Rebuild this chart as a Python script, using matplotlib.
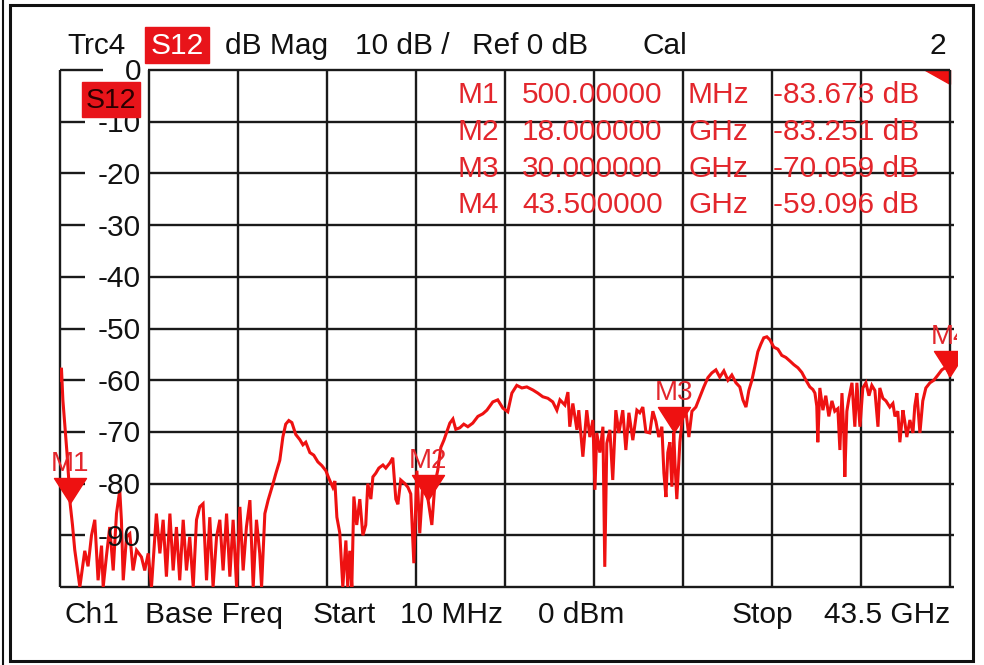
import numpy as np
import matplotlib.pyplot as plt
from matplotlib.patches import Rectangle, Polygon
from matplotlib.path import Path
import matplotlib.transforms as mtransforms

plt.rcParams['font.family'] = ['Liberation Sans', 'DejaVu Sans']

W, H = 984, 665

# sweep settings
f_start, f_stop = 0.01, 43.5    # GHz
db_top, db_bottom = 0, -100
db_div = 10

# S12 trace (GHz, dB)
f_start_spike = [0.01, 0.08, 0.15, 0.25, 0.35, 0.45, 0.50, 0.62, 0.73]
db_start_spike = [-60, -57.6, -63.8, -69, -74, -80, -83.67, -88, -92.8]

f_floor = [0.98, 1.22, 1.38, 1.55, 1.71, 1.87, 2.04, 2.12, 2.28, 2.44,
           2.61, 2.77, 2.93, 3.01, 3.10, 3.26, 3.42, 3.58, 3.75, 3.99,
           4.15, 4.32, 4.48, 4.72, 4.89, 5.05, 5.21, 5.38, 5.54, 5.70,
           5.86, 6.03, 6.19, 6.35, 6.52, 6.68, 6.84, 7.00, 7.17, 7.33,
           7.49, 7.66, 7.82, 7.98, 8.15, 8.31, 8.47, 8.64, 8.80, 8.96,
           9.12, 9.29, 9.45, 9.61, 9.77, 9.86, 10.02, 10.18, 10.42]
db_floor = [-100, -93, -96, -90, -87, -98.7, -92, -100, -94, -88.4,
            -96.8, -85.8, -81.3, -87, -98.7, -90.3, -89.7, -96.8, -92.9, -94.2,
            -96.8, -93.5, -100, -85.8, -93.5, -87, -98, -85.8, -96.8, -88.4,
            -98.7, -87, -96.8, -90.3, -100, -87, -84.5, -83.9, -98.7, -86.5,
            -100, -90.3, -87, -96.8, -85.8, -98, -87, -100, -84.5, -96.8,
            -88.4, -83.2, -100, -87, -93.5, -100, -85.8, -83.2, -80]

f_mid = [10.56, 10.75, 10.90, 11.04, 11.19, 11.34, 11.53, 11.73, 11.88, 12.02,
         12.22, 12.41, 12.61, 12.80, 13.00, 13.15, 13.34, 13.44, 13.54, 13.68,
         13.83, 13.98, 14.07, 14.17, 14.27, 14.37, 14.51, 14.66, 14.81, 14.95,
         15.05, 15.20, 15.30, 15.44, 15.59, 15.79, 15.93, 16.13, 16.27, 16.42,
         16.52, 16.66, 16.86, 17.01, 17.15, 17.30, 17.45, 17.59, 17.74, 18.00]
db_mid = [-78, -75.5, -71, -68.5, -67.8, -68.2, -70.5, -71.5, -72.5, -72,
          -74, -74.5, -75.8, -76.5, -77.5, -79, -80.7, -79.5, -86.5, -89.5,
          -100, -91, -100, -93, -100, -82.5, -88, -83, -90, -88,
          -80, -83, -78.7, -78, -77, -76.4, -77, -76, -75, -83,
          -84, -79.3, -80, -80.7, -82, -95.4, -77.5, -89.6, -80, -83.25]

f_upper = [18.18, 18.33, 18.47, 18.62, 18.77, 18.91, 19.06, 19.21, 19.35, 19.55,
           19.74, 19.94, 20.18, 20.43, 20.67, 20.87, 21.16, 21.40, 21.65, 21.89,
           22.09, 22.33, 22.58, 22.82, 23.12, 23.36, 23.60, 23.85, 24.09, 24.29,
           24.44, 24.68, 24.83, 24.92, 25.07, 25.27, 25.36, 25.56, 25.75, 25.90,
           26.05, 26.15, 26.24, 26.39, 26.54, 26.63, 26.73, 26.88, 27.02, 27.17,
           27.32, 27.51, 27.66, 27.81, 28.00, 28.20, 28.34, 28.49, 28.64, 28.83,
           28.98, 29.13, 29.27, 29.42, 29.52, 29.62, 29.71, 29.81, 29.91, 30.00]
db_upper = [-88, -80, -77.4, -73, -71.6, -70, -68.3, -67.5, -69.5, -69.2,
            -68.5, -69, -68.3, -67, -66.5, -65.8, -64.2, -63.8, -65.4, -66.1,
            -62.5, -61, -61.5, -61.3, -61.9, -62.5, -63.2, -63.5, -64.2, -65.8,
            -63.8, -64.8, -62.3, -69, -64.5, -69.6, -65.8, -74.8, -65.8, -71,
            -67.7, -81.2, -70.2, -74, -69, -96.1, -72.2, -69.6, -79.3, -65.8,
            -70.2, -65.8, -73.5, -66.3, -71.6, -65.8, -66.3, -65.2, -70, -70.2,
            -66, -68, -71, -69, -78, -82.6, -74, -72, -80.6, -70.06]

f_top = [30.06, 30.15, 30.30, 30.45, 30.59, 30.74, 30.89, 31.08, 31.28, 31.47,
         31.67, 31.86, 32.06, 32.25, 32.45, 32.65, 32.84, 33.04, 33.23, 33.38,
         33.53, 33.67, 33.82, 33.96, 34.11, 34.26, 34.40, 34.55, 34.70, 34.89,
         35.09, 35.28, 35.48, 35.68, 35.87, 36.07, 36.26, 36.46, 36.65, 36.80,
         36.90, 36.99, 37.04, 37.14, 37.29, 37.43, 37.58, 37.73, 37.87, 38.02,
         38.12, 38.22, 38.31, 38.36, 38.46, 38.56, 38.71, 38.85, 38.95, 39.10,
         39.24, 39.39, 39.54, 39.68, 39.83, 39.98, 40.07, 40.22, 40.37, 40.56,
         40.71, 40.81, 40.95, 41.05, 41.20, 41.29, 41.39, 41.54, 41.69, 41.78,
         41.88, 42.03, 42.17, 42.32, 42.52, 42.71, 42.91, 43.10, 43.30, 43.50]
db_top_band = [-76, -83, -72, -66.3, -65.8, -71, -66, -65.2, -63.2, -61.3,
               -59.5, -58.6, -58, -59.4, -58.2, -60, -59, -60.5, -61.3, -63.8,
               -65.2, -62, -60, -57.4, -54.5, -53, -51.8, -51.6, -52.2, -53.6,
               -54, -55.2, -55.6, -56.3, -57, -57.6, -58.5, -60, -61.3, -61.8,
               -62.5, -65, -72, -61.5, -65.8, -63, -67, -64, -66, -65.5,
               -73.5, -62.5, -70, -78.7, -66, -63.5, -60.5, -69, -60.5, -69,
               -61.5, -60.5, -63, -61, -62, -69, -61.5, -63.5, -64, -65.2,
               -64.5, -67, -66, -72, -65.8, -68, -71, -67.7, -70.2, -65,
               -62.5, -70.2, -64, -61.5, -60.5, -60, -59, -58, -57.5, -59.1]

trace_f = np.array(f_start_spike + f_floor + f_mid + f_upper + f_top)
trace_db = np.array(db_start_spike + db_floor + db_mid + db_upper + db_top_band)
assert len(trace_f) == len(trace_db)

# markers
marker_names = ['M1', 'M2', 'M3', 'M4']
marker_f = [0.5, 18.0, 30.0, 43.5]
marker_db = [-83.673, -83.251, -70.059, -59.096]
marker_freq_txt = ['500.00000', '18.000000', '30.000000', '43.500000']
marker_unit = ['MHz', 'GHz', 'GHz', 'GHz']

red = '#ee1111'
txt_red = '#e3262c'
ink = '#111111'
fs = 21.5


def fx(x):
    return x / W


def fy(y):
    return 1 - y / H


fig = plt.figure(figsize=(W / 100, H / 100), dpi=100)
ax = fig.add_axes([fx(60), fy(587), 890 / W, 517 / H])
ax.set_xlim(f_start, f_stop)
ax.set_ylim(db_bottom, db_top)
ax.axis('off')

blend = mtransforms.blended_transform_factory(ax.transAxes, ax.transData)
gkw = dict(color='#1a1a1a', lw=1.7, clip_on=False, solid_capstyle='butt')

# vertical divisions
span = f_stop - f_start
for k in range(1, 11):
    ax.plot([f_start + k * span / 10] * 2, [db_bottom, db_top], **gkw)
ax.plot([0, 0], [0, 1], transform=ax.transAxes, **gkw)

# horizontal divisions, the first column holds the scale
for v in range(db_top, db_bottom - 1, -db_div):
    if v == db_top:
        ax.plot([0, 0.048], [v, v], transform=blend, **gkw)
        ax.plot([0.099, 1.0], [v, v], transform=blend, **gkw)
    elif v == db_bottom:
        ax.plot([0, 1.004], [v, v], transform=blend, **gkw)
    else:
        ax.plot([0, 0.028], [v, v], transform=blend, **gkw)
        ax.plot([0.099, 1.004], [v, v], transform=blend, **gkw)
        ax.annotate(str(v), (0.091, v), xycoords=blend, xytext=(0, -7.6),
                    textcoords='offset points', ha='right', va='baseline',
                    fontsize=fs, color=ink)
ax.annotate('0', (0.091, db_top), xycoords=blend, xytext=(0, -7.2),
            textcoords='offset points', ha='right', va='baseline',
            fontsize=fs, color=ink)

# corner flag
ax.add_patch(Polygon([[0.972, 1], [1, 1], [1, 0.973]], closed=True,
                     transform=ax.transAxes, color=red, clip_on=False))

# trace
ax.plot(trace_f, trace_db, color=red, lw=2.2, solid_joinstyle='miter')

# marker triangles with labels
tri = Path([(-16, 25), (16, 25), (0, 0), (-16, 25)],
           [Path.MOVETO, Path.LINETO, Path.LINETO, Path.CLOSEPOLY])
clip = Rectangle((-0.05, -0.05), 1.008 + 0.05, 1.1, transform=ax.transAxes)
for name, f, d in zip(marker_names, marker_f, marker_db):
    ln, = ax.plot([f], [d], marker=tri, markersize=36, color=red, ls='none',
                  clip_on=True)
    ln.set_clip_path(clip)
    t = ax.annotate(name, (f, d), xytext=(0, 23), textcoords='offset points',
                    ha='center', va='baseline', fontsize=20, color=txt_red,
                    annotation_clip=False)
    t.set_clip_path(clip)

# marker table
row_base = [103, 140, 177, 213]
for i in range(4):
    yb = fy(row_base[i])
    fig.text(fx(457), yb, marker_names[i], fontsize=fs, color=txt_red, va='baseline')
    fig.text(fx(522), yb, marker_freq_txt[i], fontsize=fs, color=txt_red, va='baseline')
    fig.text(fx(688), yb, marker_unit[i], fontsize=fs, color=txt_red, va='baseline')
    fig.text(fx(773), yb, f'{marker_db[i]:.3f} dB', fontsize=fs, color=txt_red,
             va='baseline')

# header line
fig.add_artist(Rectangle((fx(145), fy(63)), 64 / W, 36 / H,
                         transform=fig.transFigure, color='#e8141a'))
fig.text(fx(177), fy(54), 'S12', fontsize=fs, color='white', ha='center', va='baseline')
for s, x in [('Trc4', 67), ('dB Mag', 225), ('10 dB /', 355), ('Ref 0 dB', 472),
             ('Cal', 643)]:
    fig.text(fx(x), fy(54), s, fontsize=fs, color=ink, va='baseline')
fig.text(fx(946), fy(54), '2', fontsize=fs, color=ink, ha='right', va='baseline')

# trace tag at the scale
fig.add_artist(Rectangle((fx(82), fy(117)), 58 / W, 35 / H,
                         transform=fig.transFigure, color='#e8141a'))
fig.text(fx(111), fy(108), 'S12', fontsize=20.5, color='#2a0000', ha='center',
         va='baseline')

# footer line
for s, x in [('Ch1', 65), ('Base Freq', 145), ('Start', 313), ('10 MHz', 400),
             ('0 dBm', 538), ('Stop', 732)]:
    fig.text(fx(x), fy(623), s, fontsize=fs, color=ink, va='baseline')
fig.text(fx(950), fy(623), '43.5 GHz', fontsize=fs, color=ink, ha='right',
         va='baseline')

# window frame
fig.add_artist(Rectangle((fx(10), fy(661)), 963 / W, 656 / H, transform=fig.transFigure,
                         fill=False, ec=ink, lw=2.2))
fig.add_artist(plt.Line2D([fx(2.5), fx(2.5)], [0, 1], transform=fig.transFigure,
                          color=ink, lw=1.5))

fig.savefig('out.png', dpi=100)
